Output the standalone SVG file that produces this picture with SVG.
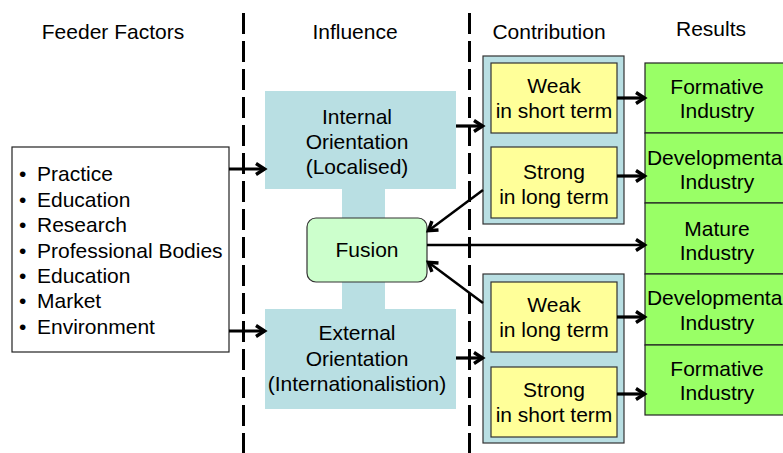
<svg xmlns="http://www.w3.org/2000/svg" width="783" height="453" viewBox="0 0 783 453">
<defs>
<style>
text{font-family:"Liberation Sans",Arial,sans-serif;font-size:21px;fill:#000}
.c{text-anchor:middle}
.blue{fill:#b9dfe3}
.outer{fill:#b9dfe3;stroke:#333;stroke-width:1.2}
.yel{fill:#ffff99;stroke:#333;stroke-width:1.2}
.grn{fill:#99ff66;stroke:#222;stroke-width:1.2}
.dash{stroke:#000;stroke-width:3;stroke-dasharray:21 7;fill:none}
.con{stroke:#000;stroke-width:3.2;fill:none;marker-end:url(#ah)}
.thin{stroke:#000;stroke-width:2.5;fill:none;marker-end:url(#ah)}
</style>
<marker id="ah" markerUnits="userSpaceOnUse" markerWidth="16" markerHeight="16" refX="11" refY="7" orient="auto">
<path d="M2,1.5 L10.5,7 L2,12.5" fill="none" stroke="#000" stroke-width="3.4"/>
</marker>
</defs>
<rect width="783" height="453" fill="#fff"/>
<g id="dividers">
<line class="dash" x1="243.5" y1="13" x2="243.5" y2="453"/>
<line class="dash" x1="469.5" y1="13" x2="469.5" y2="453"/>
</g>
<g id="headings">
<text class="c" x="113" y="39">Feeder Factors</text>
<text class="c" x="355" y="39">Influence</text>
<text class="c" x="549" y="39">Contribution</text>
<text class="c" x="711" y="36">Results</text>
</g>
<g id="feeder">
<rect x="12" y="147" width="217" height="205" fill="#fff" stroke="#222" stroke-width="1.2"/>
<g>
<text x="19" y="181">•</text><text x="37" y="181">Practice</text>
<text x="19" y="206.5">•</text><text x="37" y="206.5">Education</text>
<text x="19" y="232">•</text><text x="37" y="232">Research</text>
<text x="19" y="257.5">•</text><text x="37" y="257.5">Professional Bodies</text>
<text x="19" y="283">•</text><text x="37" y="283">Education</text>
<text x="19" y="308">•</text><text x="37" y="308">Market</text>
<text x="19" y="333.5">•</text><text x="37" y="333.5">Environment</text>
</g>
</g>
<g id="stem">
<rect class="blue" x="342" y="188" width="43" height="122"/>
</g>
<g id="internal">
<rect class="blue" x="265" y="91" width="191" height="98"/>
<text class="c" x="357" y="124">Internal</text>
<text class="c" x="357" y="149">Orientation</text>
<text class="c" x="357" y="174">(Localised)</text>
</g>
<g id="external">
<rect class="blue" x="265" y="309" width="191" height="100"/>
<text class="c" x="357" y="340">External</text>
<text class="c" x="357" y="365.5">Orientation</text>
<text class="c" x="357" y="391">(Internationalistion)</text>
</g>
<g id="fusion">
<rect x="307" y="218" width="120" height="64" rx="9" fill="#ccffcc" stroke="#333" stroke-width="1.2"/>
<text class="c" x="367" y="257">Fusion</text>
</g>
<g id="contrib-top">
<rect class="outer" x="483" y="56" width="141" height="168"/>
<g id="weak-short">
<rect class="yel" x="491" y="63" width="126" height="70"/>
<text class="c" x="554" y="93">Weak</text>
<text class="c" x="554" y="118">in short term</text>
</g>
<g id="strong-long">
<rect class="yel" x="491" y="147" width="126" height="71"/>
<text class="c" x="554" y="179">Strong</text>
<text class="c" x="554" y="204">in long term</text>
</g>
</g>
<g id="contrib-bottom">
<rect class="outer" x="483" y="274" width="141" height="169"/>
<g id="weak-long">
<rect class="yel" x="491" y="282" width="126" height="70"/>
<text class="c" x="554" y="312">Weak</text>
<text class="c" x="554" y="337">in long term</text>
</g>
<g id="strong-short">
<rect class="yel" x="491" y="367" width="126" height="70"/>
<text class="c" x="554" y="397">Strong</text>
<text class="c" x="554" y="422">in short term</text>
</g>
</g>
<g id="results">
<g id="r1"><rect class="grn" x="645" y="63" width="146" height="70"/>
<text class="c" x="717" y="94">Formative</text><text class="c" x="717" y="118">Industry</text></g>
<g id="r2"><rect class="grn" x="645" y="133" width="146" height="70"/>
<text class="c" x="717" y="165">Developmental</text><text class="c" x="717" y="189">Industry</text></g>
<g id="r3"><rect class="grn" x="645" y="203" width="146" height="71"/>
<text class="c" x="717" y="236">Mature</text><text class="c" x="717" y="260">Industry</text></g>
<g id="r4"><rect class="grn" x="645" y="274" width="146" height="71"/>
<text class="c" x="717" y="305">Developmental</text><text class="c" x="717" y="330">Industry</text></g>
<g id="r5"><rect class="grn" x="645" y="345" width="146" height="70"/>
<text class="c" x="717" y="376">Formative</text><text class="c" x="717" y="400">Industry</text></g>
</g>
<g id="connectors">
<line class="con" x1="229" y1="169" x2="265" y2="169"/>
<line class="con" x1="229" y1="331" x2="265" y2="331"/>
<line class="con" x1="456" y1="126" x2="483" y2="126"/>
<line class="con" x1="456" y1="358" x2="483" y2="358"/>
<line class="con" x1="617" y1="98" x2="645" y2="98"/>
<line class="con" x1="617" y1="176" x2="645" y2="176"/>
<line class="con" x1="617" y1="317" x2="645" y2="317"/>
<line class="con" x1="617" y1="394" x2="645" y2="394"/>
<line class="thin" x1="427" y1="245" x2="645" y2="245"/>
<line class="thin" x1="483" y1="190" x2="428" y2="231"/>
<line class="thin" x1="483" y1="303" x2="428" y2="262"/>
</g>
</svg>
